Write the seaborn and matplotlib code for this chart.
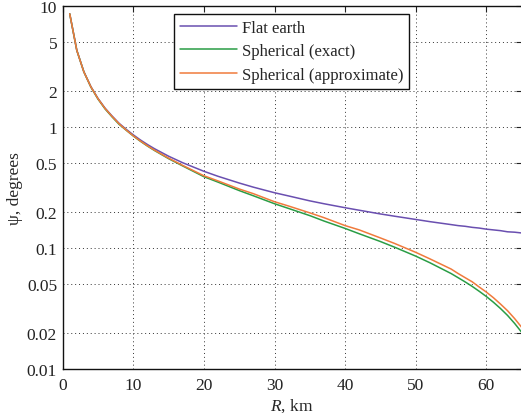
import matplotlib
matplotlib.use("Agg")
import matplotlib.pyplot as plt
import seaborn as sns
import pandas as pd

# Grazing angle versus ground range
range_km = [1, 2, 3, 4, 5, 6, 7, 8, 9, 10, 11, 12, 13, 15, 17, 20, 22, 25,
            27, 30, 32, 35, 37, 40, 42, 45, 47, 50, 52, 55, 56, 57, 58, 59,
            60, 61, 62, 63, 64, 65]
flat_earth = [8.6, 4.3, 2.86, 2.15, 1.72, 1.43, 1.23, 1.07, 0.955, 0.86,
              0.781, 0.716, 0.661, 0.573, 0.506, 0.43, 0.391, 0.344, 0.318,
              0.286, 0.269, 0.245, 0.232, 0.215, 0.205, 0.191, 0.183, 0.172,
              0.165, 0.156, 0.153, 0.151, 0.148, 0.146, 0.143, 0.141, 0.139,
              0.136, 0.135, 0.133]
spherical_exact = [8.6, 4.29, 2.85, 2.13, 1.70, 1.41, 1.21, 1.05, 0.939, 0.842,
                   0.762, 0.6955, 0.639, 0.547, 0.476, 0.388, 0.35, 0.298,
                   0.27, 0.232, 0.212, 0.185, 0.167, 0.145, 0.131, 0.113,
                   0.1015, 0.0856, 0.0755, 0.0615, 0.0568, 0.0524, 0.0481,
                   0.0438, 0.0397, 0.0356, 0.0316, 0.0277, 0.0238, 0.0201]
spherical_approx = [8.6, 4.29, 2.85, 2.14, 1.71, 1.42, 1.22, 1.06, 0.942,
                    0.845, 0.766, 0.699, 0.643, 0.552, 0.481, 0.395, 0.358,
                    0.307, 0.281, 0.241, 0.222, 0.195, 0.178, 0.153, 0.141,
                    0.121, 0.109, 0.092, 0.0813, 0.067, 0.0615, 0.0568, 0.0525,
                    0.0475, 0.0432, 0.0388, 0.0344, 0.0303, 0.0261, 0.0221]

series_names = ["Flat earth", "Spherical (exact)", "Spherical (approximate)"]
series_colors = ["#6a4fb0", "#2a9d45", "#f07a3c"]

y_ticks = [0.01, 0.02, 0.05, 0.1, 0.2, 0.5, 1, 2, 5, 10]
y_tick_labels = ["0.01", "0.02", "0.05", "0.1", "0.2", "0.5", "1", "2", "5", "10"]
x_ticks = [0, 10, 20, 30, 40, 50, 60]

df = pd.concat([
    pd.DataFrame({"R": range_km, "psi": vals, "model": name})
    for name, vals in zip(series_names,
                          [flat_earth, spherical_exact, spherical_approx])
])

sns.set_theme(style="white")
plt.rcParams["font.family"] = ["Liberation Serif", "DejaVu Serif"]
plt.rcParams["mathtext.fontset"] = "custom"
plt.rcParams["mathtext.rm"] = "Liberation Serif"
plt.rcParams["mathtext.it"] = "Liberation Serif:italic"

fig = plt.figure(figsize=(5.21, 4.14), dpi=100)
ax = fig.add_axes([0.1203, 0.1063, 0.881, 0.877])

sns.lineplot(data=df, x="R", y="psi", hue="model", hue_order=series_names,
             palette=series_colors, linewidth=1.1, ax=ax, sort=False)

ax.set_yscale("log")
ax.set_xlim(0, 65)
ax.set_ylim(0.01, 10)
ax.set_yticks(y_ticks)
ax.set_yticklabels(y_tick_labels)
ax.yaxis.set_minor_locator(matplotlib.ticker.NullLocator())
ax.set_xticks(x_ticks)

ax.grid(True, which="major", linestyle=(0, (1, 3)), color="#333333",
        linewidth=0.7)
ax.tick_params(axis="both", which="major", direction="in", length=4,
               width=0.8, labelsize=12.5, colors="#222222", top=True,
               right=True, pad=4)
ax.tick_params(axis="x", pad=6)
for s in ax.spines.values():
    s.set_color("#111111")
    s.set_linewidth(1.0)

ax.set_xlabel("$R$, km", fontsize=12.5, labelpad=2)
ax.set_ylabel("ψ, degrees", fontsize=12.5, labelpad=3)

leg = ax.legend(loc="upper left", bbox_to_anchor=(0.243, 0.978),
                fontsize=12, frameon=True, fancybox=False, framealpha=1,
                edgecolor="#111111", handlelength=3.4, borderpad=0.35,
                labelspacing=0.45, handletextpad=0.3, borderaxespad=0)
leg.get_frame().set_linewidth(1.0)

fig.savefig("out.png", dpi=100)
